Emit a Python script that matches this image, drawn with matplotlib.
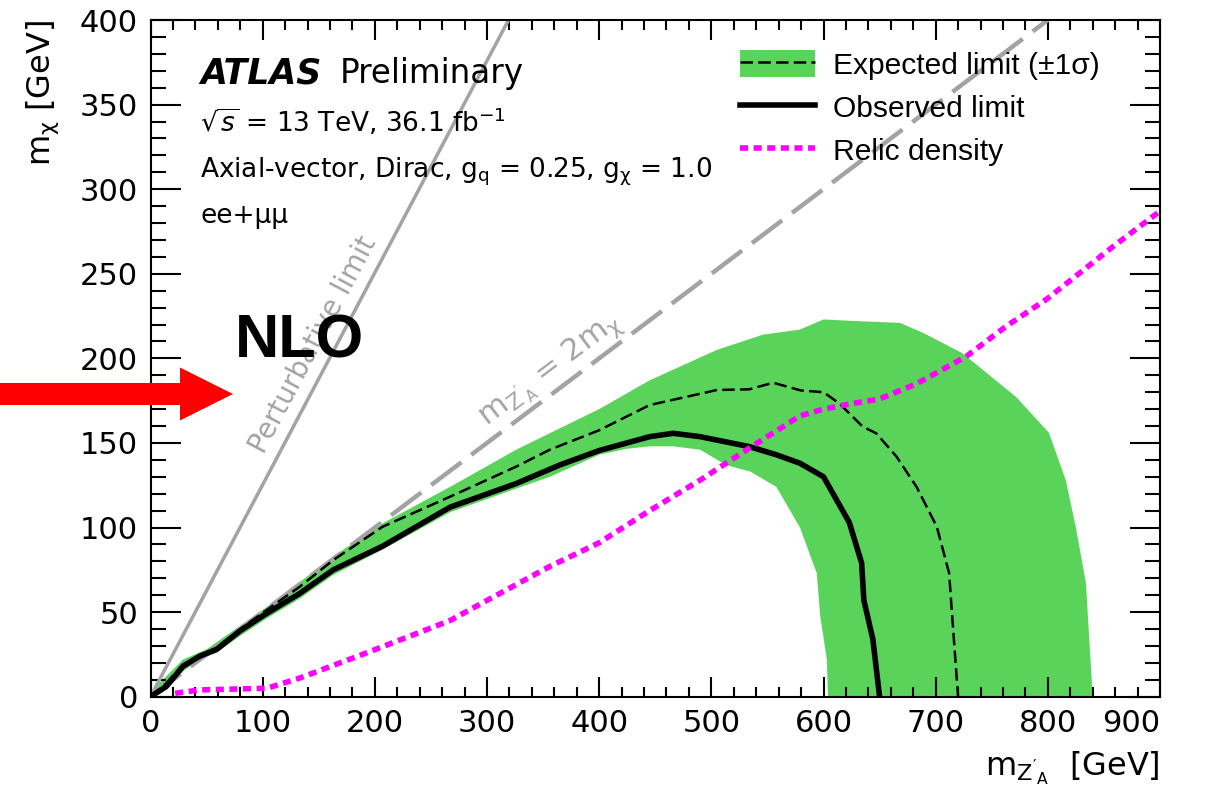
import numpy as np
import matplotlib
matplotlib.use("Agg")
import matplotlib.pyplot as plt
import matplotlib.transforms as mtransforms
from matplotlib.patches import Patch, FancyArrow
from matplotlib.lines import Line2D
from matplotlib.ticker import MultipleLocator
from matplotlib.font_manager import FontProperties

# ---------------- data (GeV) ----------------
obs_x = [0, 14, 29, 44, 59, 80, 103, 133, 163, 207, 267, 326, 365, 400, 445, 466, 490, 534, 558, 579, 600, 623, 634, 636, 644, 650]
obs_y = [0, 6, 18, 24, 28, 39, 49, 61, 75, 89, 112, 126, 137, 145.5, 153.7, 155.7, 153.7, 147.8, 143, 138, 130, 103, 79, 57, 34, 0]

exp_x = [0, 14, 29, 44, 59, 80, 103, 133, 163, 207, 267, 326, 356, 400, 445, 505, 534, 555, 580, 600, 614, 635, 647, 665, 683, 701, 712, 715, 720]
exp_y = [0, 8, 19, 24, 29, 40, 51, 65, 80.8, 100.5, 118.2, 136, 146, 157.5, 172.4, 181.3, 181.7, 185.6, 181, 180, 173.4, 159.6, 155.7, 142, 124, 100.5, 73, 45, 0]

band_up_x = [0, 5, 14, 29, 50, 80, 110, 163, 207, 267, 326, 400, 445, 505, 546, 579, 600, 630, 668, 689, 724, 772, 801, 816, 825, 834, 840]
band_up_y = [0, 6, 12, 22, 28, 42, 56, 83, 102.5, 124, 146, 170, 187, 205, 214, 217, 223, 222, 221, 215, 203, 177, 156, 128, 100, 67, 0]
band_dn_x = [604, 603, 597, 594, 579, 558, 535, 513, 490, 466, 445, 424, 400, 356, 326, 267, 207, 163, 133, 103, 80, 59, 44, 29, 14, 0]
band_dn_y = [0, 22, 48, 73, 100, 124, 133, 137, 146, 148, 148, 146.5, 143, 130, 123, 109, 87, 72, 58, 46, 36, 26, 22, 15, 4, 0]

relic_x = [22, 44, 104, 133, 193, 267, 303, 356, 400, 445, 490, 534, 579, 600, 623, 650, 683, 727, 763, 799, 858, 900]
relic_y = [2, 4, 5, 11, 26, 45, 58, 77, 91, 110, 128, 147, 166, 170, 173, 176, 185, 201, 219, 235, 266, 287]

pert_x = [0, 319.2]
pert_y = [0, 400]
diag_x = [0, 800]
diag_y = [0, 400]

x_ticks = [0, 100, 200, 300, 400, 500, 600, 700, 800, 900]
y_ticks = [0, 50, 100, 150, 200, 250, 300, 350, 400]

legend_labels = ["Expected limit (\u00b11\u03c3)", "Observed limit", "Relic density"]

# ---------------- style ----------------
plt.rcParams["font.family"] = ["DejaVu Sans"]
plt.rcParams["mathtext.fontset"] = "dejavusans"

W, H = 1216, 796
fig = plt.figure(figsize=(W / 100, H / 100), dpi=100)
PX = mtransforms.Affine2D().scale(1.0 / W, 1.0 / H) + fig.transFigure


def P(x, y_top):
    return x / W, 1 - y_top / H


ax_l, ax_r, ax_t, ax_b = 150.5, 1160.0, 20.0, 696.7
ax = fig.add_axes([ax_l / W, 1 - ax_b / H, (ax_r - ax_l) / W, (ax_b - ax_t) / H])
ax.set_xlim(0, 900)
ax.set_ylim(0, 400)

green = "#5ad35a"
gray = "#a3a3a3"

band_x = band_up_x + band_dn_x
band_y = band_up_y + band_dn_y
ax.fill(band_x, band_y, color=green, lw=0, zorder=1)

ax.plot(pert_x, pert_y, color=gray, lw=2.5, zorder=2, solid_capstyle="butt")
ax.plot(diag_x, diag_y, color=gray, lw=3.2, dashes=(8.5, 2.8), zorder=2, dash_capstyle="butt")

ax.plot(exp_x, exp_y, color="black", lw=1.8, dashes=(5.0, 2.1), zorder=3)
ax.plot(obs_x, obs_y, color="black", lw=4.0, zorder=4, solid_joinstyle="round")
ax.plot(relic_x, relic_y, color="#ff00ff", lw=4.0, dashes=(1.45, 1.0), zorder=5, dash_capstyle="butt")

# ticks
ax.xaxis.set_minor_locator(MultipleLocator(20))
ax.yaxis.set_minor_locator(MultipleLocator(10))
ax.set_xticks(x_ticks)
ax.set_yticks(y_ticks)
ax.set_xticklabels([str(v) for v in x_ticks])
ax.set_yticklabels([str(v) for v in y_ticks])
ax.set_xlim(0, 900)
ax.set_ylim(0, 400)
ax.tick_params(which="both", direction="in", top=True, right=True, width=1.5, labelsize=22, colors="black")
ax.tick_params(axis="x", which="major", length=14.4, pad=9)
ax.tick_params(axis="x", which="minor", length=7.2)
ax.tick_params(axis="y", which="major", length=21.6, pad=9)
ax.tick_params(axis="y", which="minor", length=10.8)
ax.get_xticklabels()[-1].set_horizontalalignment("right")
for s in ax.spines.values():
    s.set_linewidth(1.5)

# axis titles
fig.text(*P(50, 20), r"$\mathregular{m_{\chi}}$ [GeV]", rotation=90, rotation_mode="anchor",
         ha="right", va="baseline", fontsize=23)
fig.text(*P(1160, 776), r"$\mathregular{m_{Z'_{A}}}$  [GeV]", ha="right", va="baseline", fontsize=23)

# ATLAS labels
fig.text(*P(200, 83), "ATLAS", fontsize=25, fontweight="bold", fontstyle="italic", va="baseline")
fig.text(*P(340, 83), "Preliminary", fontsize=23.5, va="baseline")
fig.text(*P(200, 132), r"$\sqrt{s}$ = 13 TeV, 36.1 fb$^{-1}$", fontsize=19, va="baseline")
fig.text(*P(200, 178), r"Axial-vector, Dirac, $\mathregular{g_{q}}$ = 0.25, $\mathregular{g_{\chi}}$ = 1.0",
         fontsize=19, va="baseline")
fig.text(*P(200, 223), "ee+\u03bc\u03bc", fontsize=19, va="baseline")

# rotated line labels
def line_angle(x, y):
    p = ax.transData.transform(np.column_stack([x, y]))
    return np.degrees(np.arctan2(p[1, 1] - p[0, 1], p[1, 0] - p[0, 0]))

fig.canvas.draw()
ang_p = line_angle(pert_x, pert_y)
ang_d = line_angle(diag_x, diag_y)
ax.text(144.8, 207.9, "Perturbative limit", color=gray, fontsize=20, rotation=ang_p,
        rotation_mode="anchor", ha="center", va="center", zorder=6)
ax.text(356, 193, r"$\mathregular{m_{Z'_{A}}}$ = 2$\mathregular{m_{\chi}}$", color=gray, fontsize=22,
        rotation=ang_d, rotation_mode="anchor", ha="center", va="center", zorder=6)

# NLO + arrow
fig.text(*P(235, 358), "NLO", fontsize=44, fontweight="bold", family=["Liberation Sans"], va="baseline")
arrow = FancyArrow(0, H - 394, 233, 0, width=22, head_width=53, head_length=53,
                   length_includes_head=True, color="#ff0000", lw=0, transform=PX)
fig.add_artist(arrow)

# legend
h_exp = (Patch(facecolor=green, edgecolor="none"),
         Line2D([], [], color="black", lw=1.8, dashes=(5.0, 2.1)))
h_obs = Line2D([], [], color="black", lw=4.0)
h_rel = Line2D([], [], color="#ff00ff", lw=4.0, dashes=(1.45, 1.0))
leg = ax.legend([h_exp, h_obs, h_rel], legend_labels, loc="upper left",
                bbox_to_anchor=P(740, 50), bbox_transform=fig.transFigure,
                frameon=False, prop=FontProperties(family="Liberation Sans", size=21.6),
                handlelength=2.5, handleheight=1.0, handletextpad=0.6,
                labelspacing=0.45, borderpad=0, borderaxespad=0)

fig.savefig("out.png", dpi=100, facecolor="white")
